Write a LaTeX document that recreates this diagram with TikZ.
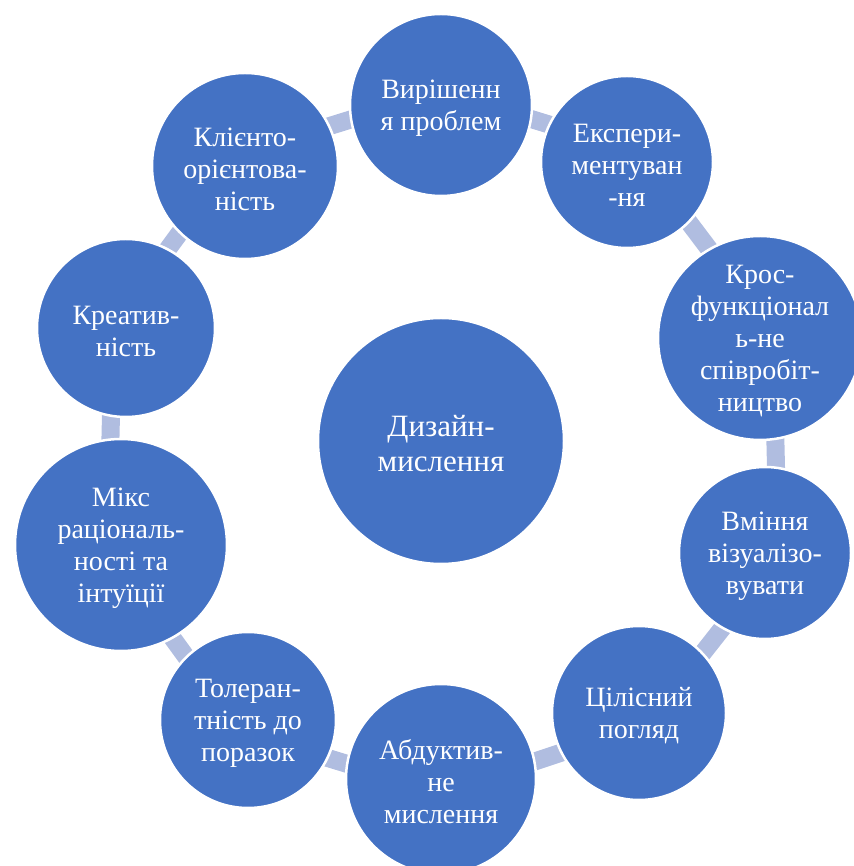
\documentclass[tikz,border=0pt]{standalone}
\usepackage{fontspec}
\setmainfont{Liberation Serif}
\usetikzlibrary{positioning}
\usetikzlibrary{backgrounds}
\definecolor{nodeblue}{RGB}{68,114,196}
\definecolor{linkblue}{RGB}{176,189,224}
\tikzset{item/.style={circle,fill=nodeblue,draw=white,line width=2.5pt,inner sep=0pt},itemtext/.style={text=white,align=center,inner sep=0pt,yshift=-3pt,font=\fontsize{28}{32}\selectfont},link/.style={draw=linkblue,line width=18pt}}

\begin{document}
\begin{tikzpicture}[x=1pt, y=1pt]
\useasboundingbox (-441,-425) rectangle (412,441);
\node (dm) at (0,0) [item, minimum size=246, label={[itemtext, font=\fontsize{31}{35}\selectfont]center:Дизайн-\\мислення}] {};
\foreach \i/\x/\y/\d/\t in {1/0/336/182/{Вирішенн\\я проблем}, 2/186/279/172/{Експери-\\ментуван\\-ня}, 3/319/103/204/{Крос-\\функціонал\\ь-не\\співробіт-\\ництво}, 4/324/-112/172/{Вміння\\візуалізо-\\вувати}, 5/198/-272/174/{Цілісний\\погляд}, 6/0/-338/190/{Абдуктив-\\не\\мислення}, 7/-193/-279/176/{Толеран-\\тність до\\поразок}, 8/-320/-104/212/{Мікс\\раціональ-\\ності та\\інтуїції}, 9/-315/113/178/{Креатив-\\ність}, 10/-196/275/186/{Клієнто-\\орієнтова-\\ність}} {
\node (p\i) at (\x,\y) [item, minimum size=\d, label={[itemtext]center:\t}] {};
}
\begin{scope}[on background layer]
\foreach \i/\j in {1/2, 2/3, 3/4, 4/5, 5/6, 6/7, 7/8, 8/9, 9/10, 10/1} {
\draw[link] ([shift={({72-36*(\i-1)}:13)}]p\i.center) -- ([shift={({72-36*(\i-1)}:13)}]p\j.center);
}
\end{scope}
\end{tikzpicture}
\end{document}
